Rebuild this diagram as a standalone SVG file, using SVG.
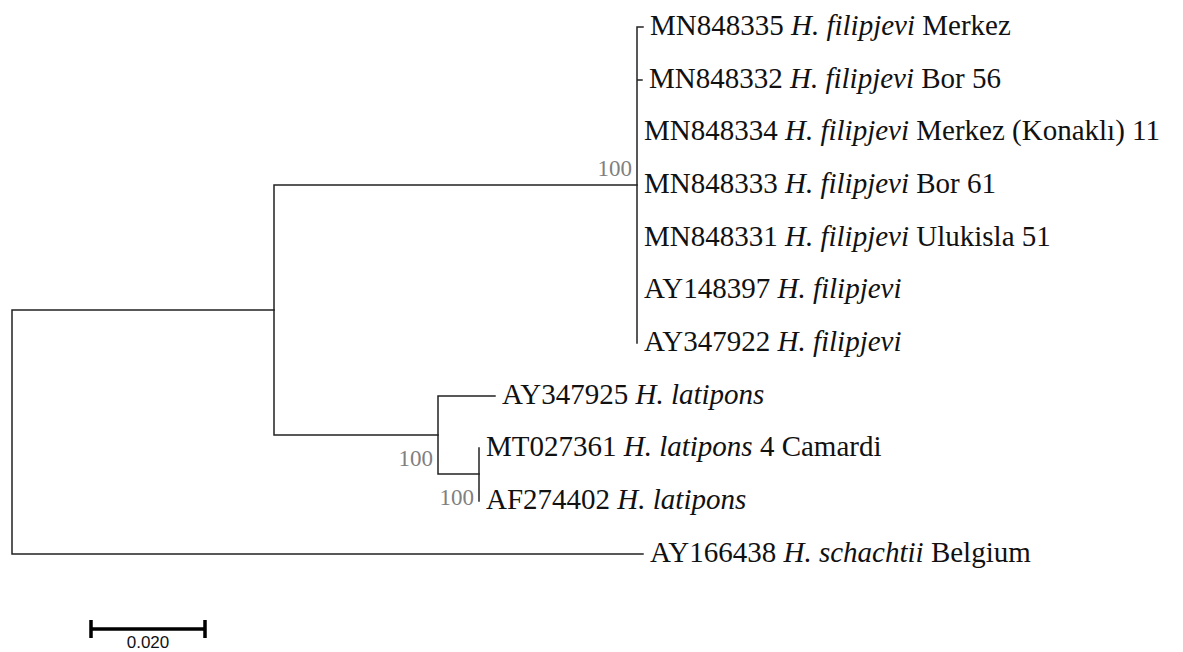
<svg xmlns="http://www.w3.org/2000/svg" width="1183" height="652" viewBox="0 0 1183 652">
<style>
.br{stroke:#222;stroke-width:1.5;fill:none;stroke-linecap:square}
.lb{font-family:"Liberation Serif","Times New Roman",serif;font-size:29px;fill:#111}
.it{font-style:italic}
.bs{font-family:"Liberation Serif","Times New Roman",serif;font-size:23px;fill:#808080;text-anchor:end}
.sc{stroke:#000;stroke-width:3.5;fill:none}
.st{font-family:"Liberation Sans",Arial,sans-serif;font-size:17px;fill:#111;text-anchor:middle}
</style>
<rect width="1183" height="652" fill="#fff"/>
<g id="connectors">
<path class="br" d="M12,310 V554 M12,310 H274 M12,554 H643"/>
<path class="br" d="M274,185 V435 M274,185 H637 M274,435 H438"/>
<path class="br" d="M637,27 V343 M637,27 H643 M637,80 H642"/>
<path class="br" d="M438,396 V474 M438,396 H495 M438,474 H479"/>
<path class="br" d="M479,448 V501"/>
</g>
<g id="n1"><text class="lb" x="650" y="35">MN848335 <tspan class="it">H. filipjevi</tspan> Merkez</text></g>
<g id="n2"><text class="lb" x="649" y="88">MN848332 <tspan class="it">H. filipjevi</tspan> Bor 56</text></g>
<g id="n3"><text class="lb" x="644" y="140">MN848334 <tspan class="it">H. filipjevi</tspan> Merkez (Konaklı) 11</text></g>
<g id="n4"><text class="lb" x="644" y="193">MN848333 <tspan class="it">H. filipjevi</tspan> Bor 61</text></g>
<g id="n5"><text class="lb" x="644" y="246">MN848331 <tspan class="it">H. filipjevi</tspan> Ulukisla 51</text></g>
<g id="n6"><text class="lb" x="644" y="298">AY148397 <tspan class="it">H. filipjevi</tspan></text></g>
<g id="n7"><text class="lb" x="644" y="351">AY347922 <tspan class="it">H. filipjevi</tspan></text></g>
<g id="n8"><text class="lb" x="502" y="404">AY347925 <tspan class="it">H. latipons</tspan></text></g>
<g id="n9"><text class="lb" x="486" y="456">MT027361 <tspan class="it">H. latipons</tspan> 4 Camardi</text></g>
<g id="n10"><text class="lb" x="486" y="509">AF274402 <tspan class="it">H. latipons</tspan></text></g>
<g id="n11"><text class="lb" x="650" y="562">AY166438 <tspan class="it">H. schachtii</tspan> Belgium</text></g>
<g id="bootstrap">
<text class="bs" x="632" y="176">100</text>
<text class="bs" x="433" y="466">100</text>
<text class="bs" x="474" y="505">100</text>
</g>
<g id="scalebar">
<path class="sc" d="M91,629 H205 M91,620 V638 M205,620 V638"/>
<text class="st" x="148" y="648">0.020</text>
</g>
</svg>
